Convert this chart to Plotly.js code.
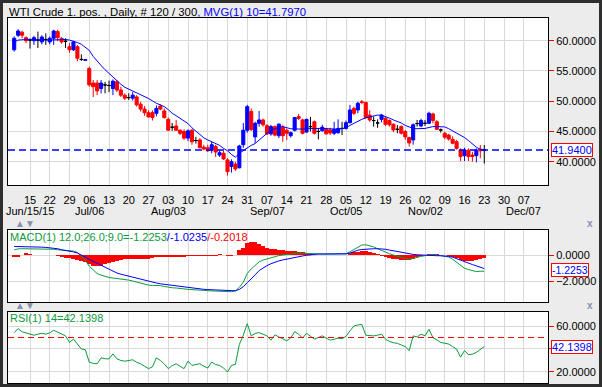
<!DOCTYPE html>
<html><head><meta charset="utf-8">
<script src="https://cdn.plot.ly/plotly-3.0.1.min.js"></script>
<style>html,body{margin:0;padding:0;background:#ececec;}#chart{width:602px;height:387px;}</style>
</head><body><div id="chart"></div>
<script>
const dates = [
"2015-06-09","2015-06-10","2015-06-11","2015-06-12","2015-06-15","2015-06-16","2015-06-17","2015-06-18","2015-06-19","2015-06-22","2015-06-23","2015-06-24","2015-06-25","2015-06-26","2015-06-29","2015-06-30",
"2015-07-01","2015-07-02","2015-07-03","2015-07-06","2015-07-07","2015-07-08","2015-07-09","2015-07-10","2015-07-13","2015-07-14","2015-07-15","2015-07-16","2015-07-17","2015-07-20","2015-07-21","2015-07-22","2015-07-23","2015-07-24","2015-07-27","2015-07-28","2015-07-29","2015-07-30","2015-07-31",
"2015-08-03","2015-08-04","2015-08-05","2015-08-06","2015-08-07","2015-08-10","2015-08-11","2015-08-12","2015-08-13","2015-08-14","2015-08-17","2015-08-18","2015-08-19","2015-08-20","2015-08-21","2015-08-24","2015-08-25","2015-08-26","2015-08-27","2015-08-28","2015-08-31",
"2015-09-01","2015-09-02","2015-09-03","2015-09-04","2015-09-07","2015-09-08","2015-09-09","2015-09-10","2015-09-11","2015-09-14","2015-09-15","2015-09-16","2015-09-17","2015-09-18","2015-09-21","2015-09-22","2015-09-23","2015-09-24","2015-09-25","2015-09-28","2015-09-29","2015-09-30",
"2015-10-01","2015-10-02","2015-10-05","2015-10-06","2015-10-07","2015-10-08","2015-10-09","2015-10-12","2015-10-13","2015-10-14","2015-10-15","2015-10-16","2015-10-19","2015-10-20","2015-10-21","2015-10-22","2015-10-23","2015-10-26","2015-10-27","2015-10-28","2015-10-29","2015-10-30",
"2015-11-02","2015-11-03","2015-11-04","2015-11-05","2015-11-06","2015-11-09","2015-11-10","2015-11-11","2015-11-12","2015-11-13","2015-11-16","2015-11-17","2015-11-18","2015-11-19","2015-11-20","2015-11-23"];

const open = [58.5,60.9,61.4,60.5,
60.1,60.0,60.1,59.8,60.2,59.8,60.4,61.5,60.4,59.9,
59.0,58.5,59.0,56.9,56.75,55.4,53.0,53.0,52.1,52.7,
52.6,52.1,53.2,51.85,51.0,50.6,50.5,50.7,49.5,48.7,
48.1,48.1,48.0,49.2,48.4,47.0,45.7,45.9,45.2,45.0,
43.9,45.2,43.5,43.6,42.4,42.3,41.9,42.5,41.1,41.4,
40.3,39.2,39.6,39.0,42.8,45.2,48.3,44.1,46.35,46.9,
45.95,44.6,45.8,44.3,45.7,45.2,44.3,45.2,47.45,46.9,
44.9,45.8,46.6,45.0,45.1,45.35,45.25,44.7,44.8,45.5,
45.5,46.45,48.8,48.55,49.9,49.8,47.7,46.8,46.4,47.0,
47.2,46.8,46.2,45.35,45.8,45.0,44.0,43.6,46.3,45.9,
46.35,46.35,47.9,46.6,45.25,44.7,44.4,43.7,43.3,41.9,
41.0,41.9,41.1,41.0,42.1,41.94];
const high = [60.7,61.9,61.65,60.7,
60.4,60.8,61.5,60.9,61.2,60.7,61.8,61.8,60.6,60.4,
59.6,60.0,59.3,57.75,56.9,55.7,53.5,53.5,53.5,53.2,
53.4,53.6,53.5,52.4,51.3,51.3,51.5,51.0,49.9,49.2,
48.5,48.5,49.3,49.5,48.8,47.3,46.4,46.9,45.35,45.35,
45.35,45.4,44.1,43.9,42.8,42.8,43.3,42.8,41.9,41.8,
40.6,40.4,40.0,42.8,46.4,49.4,48.8,46.6,48.4,47.1,
46.2,46.1,46.0,46.35,46.1,45.5,45.0,47.4,47.9,47.1,
47.1,47.4,46.8,45.5,46.1,45.6,45.6,46.6,47.0,46.6,
46.8,49.4,49.1,49.9,50.2,49.9,48.5,47.45,47.0,47.9,
47.4,47.0,46.3,46.07,46.0,45.24,44.13,46.35,46.9,47.1,
46.9,48.27,48.1,46.9,45.5,44.96,44.6,44.2,43.6,42.2,
42.3,42.2,41.65,42.2,42.76,42.76];
const low = [58.2,60.6,60.4,59.6,
58.7,59.3,58.8,59.4,59.3,59.4,59.3,59.9,59.5,58.8,
58.0,58.3,56.6,56.65,56.7,52.4,50.7,51.0,51.3,51.3,
51.5,51.0,51.5,50.7,50.2,50.2,50.1,49.1,48.3,47.6,
47.3,46.8,47.5,48.5,47.1,45.1,45.1,45.1,44.4,43.6,
43.4,42.8,43.0,42.2,41.9,41.6,41.4,40.8,40.8,40.3,
37.7,38.2,38.5,38.9,42.3,44.8,45.1,43.1,45.8,45.8,
44.4,44.3,44.2,43.9,43.3,43.6,44.0,45.0,46.9,44.5,
44.8,45.0,44.5,43.7,45.0,44.5,44.4,44.4,44.6,44.4,
45.3,46.3,47.7,48.0,49.5,47.1,46.6,45.8,45.6,46.5,
45.9,45.8,44.9,44.7,44.5,43.6,42.5,42.8,45.8,45.7,
45.9,46.2,46.35,45.24,44.8,43.7,43.5,42.9,42.0,40.1,
40.1,40.1,40.0,39.9,40.56,39.7];
const close = [60.4,61.6,60.9,60.0,
60.1,60.5,60.1,60.6,60.2,60.4,61.6,60.5,59.8,59.9,
58.5,59.8,57.1,56.9,56.85,52.7,52.4,51.7,53.0,52.7,
52.6,53.3,51.85,51.0,50.5,50.6,51.0,49.4,48.7,48.1,
47.4,47.3,48.8,48.7,47.3,45.2,45.7,45.2,44.7,43.9,
45.1,43.3,43.5,42.3,42.1,41.8,42.8,41.6,41.5,40.45,
38.35,40.0,38.8,42.6,45.2,49.1,45.3,46.35,46.9,46.1,
44.6,45.8,44.4,46.2,44.3,44.7,44.8,47.3,47.15,44.7,
47.0,45.8,44.7,45.0,45.7,44.6,44.75,45.35,45.5,45.5,
46.45,48.55,48.0,49.65,49.8,47.3,46.9,46.8,46.4,47.7,
46.2,46.1,45.25,45.35,44.7,44.1,43.1,46.1,46.3,46.8,
46.35,48.0,46.8,45.35,45.25,44.05,43.75,43.05,42.2,40.85,
41.9,40.85,40.85,41.9,41.8,41.94];
const mvg10 = [59.8,60.1,60.15,60.2,
60.2,60.15,60.1,60.1,60.1,60.1,60.15,60.2,60.2,60.2,
60.1,59.95,59.7,59.4,58.9,58.4,57.4,56.6,55.9,55.2,
54.6,53.9,53.3,52.8,52.3,52.0,51.7,51.4,51.1,50.8,
50.45,50.05,49.65,49.4,49.1,48.6,48.0,47.6,47.2,46.7,
46.3,45.6,45.0,44.4,43.95,43.6,43.3,43.1,42.7,42.2,
41.8,41.2,40.75,41.4,41.85,42.3,42.7,43.0,43.6,44.1,
44.7,45.2,45.5,45.7,45.8,45.6,45.45,45.4,45.35,45.4,
45.45,45.5,45.5,45.5,45.5,45.5,45.45,45.4,45.35,45.45,
45.6,46.0,46.35,46.65,47.0,47.25,47.4,47.55,47.7,47.7,
47.5,47.2,46.9,46.65,46.4,46.0,45.7,45.5,45.45,45.45,
45.5,45.65,45.8,45.8,45.8,45.75,45.45,45.1,44.75,44.4,
44.0,43.5,42.9,42.4,42.05,41.797];
const macdLine = [0.39,0.47,0.48,0.48,
0.47,0.46,0.45,0.44,0.43,0.43,0.44,0.40,0.38,0.36,
0.33,0.30,0.20,-0.10,-0.40,-0.85,-1.15,-1.40,-1.52,-1.62,
-1.70,-1.74,-1.77,-1.80,-1.85,-1.90,-1.97,-2.05,-2.15,-2.24,
-2.28,-2.30,-2.30,-2.32,-2.38,-2.45,-2.48,-2.50,-2.55,-2.60,
-2.60,-2.62,-2.65,-2.68,-2.70,-2.72,-2.72,-2.73,-2.74,-2.76,
-2.80,-2.78,-2.72,-2.45,-2.05,-1.40,-1.05,-0.78,-0.52,-0.38,
-0.28,-0.18,-0.10,-0.04,0.00,0.04,0.08,0.14,0.16,0.14,
0.12,0.10,0.08,0.08,0.08,0.08,0.08,0.07,0.07,0.08,
0.10,0.25,0.40,0.58,0.76,0.78,0.72,0.62,0.48,0.34,
0.22,0.10,0.00,-0.06,-0.16,-0.24,-0.31,-0.26,-0.16,-0.10,
-0.05,0.02,0.04,0.00,-0.04,-0.08,-0.15,-0.32,-0.55,-0.80,
-1.00,-1.10,-1.20,-1.25,-1.23,-1.2253];
const signalLine = [0.65,0.65,0.65,0.64,
0.63,0.62,0.61,0.60,0.58,0.55,0.52,0.48,0.40,0.36,
0.31,0.24,0.15,0.02,-0.15,-0.33,-0.48,-0.62,-0.78,-0.95,
-1.12,-1.25,-1.36,-1.45,-1.53,-1.60,-1.67,-1.74,-1.81,-1.88,
-1.95,-2.05,-2.12,-2.18,-2.22,-2.27,-2.32,-2.37,-2.40,-2.44,
-2.48,-2.51,-2.54,-2.57,-2.60,-2.62,-2.64,-2.66,-2.67,-2.69,
-2.70,-2.71,-2.71,-2.60,-2.40,-2.10,-1.82,-1.50,-1.18,-0.98,
-0.80,-0.66,-0.53,-0.44,-0.37,-0.30,-0.24,-0.17,-0.12,-0.07,
-0.02,0.03,0.06,0.08,0.08,0.08,0.08,0.08,0.08,0.08,
0.09,0.15,0.28,0.37,0.42,0.45,0.47,0.48,0.48,0.47,
0.44,0.38,0.32,0.26,0.21,0.15,0.09,0.05,0.02,0.00,
-0.03,-0.04,-0.05,-0.05,-0.05,-0.06,-0.10,-0.16,-0.28,-0.40,
-0.52,-0.62,-0.72,-0.82,-0.93,-1.0235];
const macdHist = [-0.12,-0.12,0.02,0.15,
0.05,0.02,0.0,-0.02,-0.02,-0.03,0.0,-0.06,-0.15,-0.2,
-0.25,-0.3,-0.35,-0.45,-0.55,-0.7,-0.83,-0.85,-0.8,-0.65,
-0.58,-0.5,-0.42,-0.35,-0.3,-0.28,-0.3,-0.3,-0.32,-0.3,
-0.27,-0.2,-0.15,-0.12,-0.14,-0.15,-0.14,-0.12,-0.12,-0.12,
-0.1,-0.09,-0.09,-0.08,-0.08,-0.07,-0.05,-0.05,0.1,-0.03,
-0.08,-0.05,0.02,0.35,0.5,0.95,1.0,0.98,0.85,0.7,
0.55,0.48,0.43,0.38,0.35,0.32,0.3,0.28,0.25,0.2,
0.15,0.08,0.03,0.0,0.0,0.0,0.0,-0.02,-0.02,0.0,
0.02,0.12,0.2,0.25,0.32,0.32,0.25,0.14,0.05,-0.05,
-0.15,-0.25,-0.3,-0.3,-0.35,-0.38,-0.38,-0.3,-0.18,-0.1,
-0.03,0.05,0.1,0.06,0.0,-0.03,-0.06,-0.14,-0.25,-0.35,
-0.45,-0.45,-0.43,-0.38,-0.3,-0.2018];
const rsi14 = [54.3,57.7,55.0,54.0,
52.5,52.0,52.9,53.7,52.9,54.0,56.3,54.5,52.9,51.4,
45.7,48.6,44.3,40.0,39.4,28.6,27.5,27.1,32.3,31.5,
31.4,35.7,31.5,30.0,29.4,29.8,30.6,28.5,27.1,25.0,
22.9,24.5,32.3,30.0,27.0,22.9,25.5,27.1,25.0,22.9,
29.4,25.7,26.5,27.1,25.0,23.4,28.6,26.5,25.7,23.5,
20.0,25.7,26.6,44.0,52.0,62.0,51.4,53.5,54.3,53.0,
51.4,47.7,52.3,50.5,48.6,47.1,49.5,55.1,52.9,49.4,
53.7,51.0,48.6,50.0,51.4,49.5,47.7,48.5,49.4,49.0,
51.0,55.7,60.0,60.9,61.4,52.0,51.7,51.4,52.0,52.9,
48.5,46.6,45.5,44.9,43.5,42.0,38.6,51.4,50.5,52.9,
51.4,57.1,50.0,47.5,45.7,45.0,44.3,42.0,40.0,32.9,
38.6,35.1,35.5,37.1,40.0,42.14];

const dayTickLabels = ["15","22","29","06","13","20","27","03","10","17","24","31","07","14","21","28","05","12","19","26","02","09","16","23","30","07"];
const monthLabels = ["Jun/15/15","Jul/06","Aug/03","Sep/07","Oct/05","Nov/02","Dec/07"];
const monthLabelWeek = [0,3,7,12,16,20,25];
const priceTicks = [40,45,50,55,60];
const macdTicks = [0,-2];
const rsiTicks = [20,40,60];
const rsiTickText = ["20.0000","","60.0000"];
const titleText = "WTI Crude 1. pos. , Daily, # 120 / 300";
const mvgText = ", MVG(1) 10=41.7970";
const lastPrice = 41.94, lastPriceText = "41.9400";
const macdVal = "-1.2253", signalVal = "-1.0235", histVal = "-0.2018";
const rsiVal = 42.1398, rsiValText = "42.1398";
const rsiRefLevel = 50;

const W = 602, H = 387;
const px = v => v / W, py = v => 1 - v / H;
const FONT = "Liberation Sans, Arial, sans-serif";
const BLUE = "#0000ff", RED = "#ff0000", GREEN = "#0b9a3c", GRID = "#d9d9d9";
const firstMondayIdx = dates.indexOf("2015-06-15");
const weekTicks = dayTickLabels.map((_, k) => firstMondayIdx + 5 * k);
const idx = dates.map((_, i) => i);
const xRange = [firstMondayIdx - 22 / 3.95, firstMondayIdx + 518 / 3.95];

function subset(pred) {
  const o = {x: [], open: [], high: [], low: [], close: []};
  idx.forEach(i => { if (pred(open[i], close[i])) {
    o.x.push(i); o.open.push(open[i]); o.high.push(high[i]); o.low.push(low[i]); o.close.push(close[i]); } });
  return o;
}
function candle(s, col) {
  return {type: "candlestick", x: s.x, open: s.open, high: s.high, low: s.low, close: s.close,
    xaxis: "x", yaxis: "y", whiskerwidth: 0, hoverinfo: "skip",
    increasing: {line: {color: col, width: 1}, fillcolor: col},
    decreasing: {line: {color: col, width: 1}, fillcolor: col}};
}
const up = subset((o, c) => c - o > 0.06);
const dn = subset((o, c) => o - c > 0.06);
const flat = subset((o, c) => Math.abs(c - o) <= 0.06);

const traces = [
  candle(up, BLUE), candle(dn, RED), candle(flat, "#000000"),
  {type: "scatter", mode: "lines", x: idx, y: mvg10, xaxis: "x", yaxis: "y", line: {color: BLUE, width: 1}, hoverinfo: "skip"},
  {type: "bar", x: idx, y: macdHist, width: 1, xaxis: "x2", yaxis: "y2", marker: {color: RED, line: {width: 0}}, hoverinfo: "skip"},
  {type: "scatter", mode: "lines", x: idx, y: macdLine, xaxis: "x2", yaxis: "y2", line: {color: GREEN, width: 1}, hoverinfo: "skip"},
  {type: "scatter", mode: "lines", x: idx, y: signalLine, xaxis: "x2", yaxis: "y2", line: {color: BLUE, width: 1}, hoverinfo: "skip"},
  {type: "scatter", mode: "lines", x: idx, y: rsi14, xaxis: "x3", yaxis: "y3", line: {color: GREEN, width: 1}, hoverinfo: "skip"}
];

const xDom = [px(8), px(548)];
const xBase = {domain: xDom, range: xRange, tickvals: weekTicks, showgrid: true, gridcolor: GRID, gridwidth: 1,
  showline: true, mirror: true, linecolor: "#000", linewidth: 1, zeroline: false, ticks: "",
  rangeslider: {visible: false}, fixedrange: true};
const yBase = {side: "right", ticks: "outside", ticklen: 5, tickcolor: RED, tickwidth: 1, tickformat: ".4f",
  showgrid: true, gridcolor: GRID, gridwidth: 1, showline: true, mirror: true, linecolor: "#000", linewidth: 1,
  zeroline: false, fixedrange: true, tickfont: {size: 11, color: "#000"}};

const layout = {
  width: W, height: H, margin: {l: 0, r: 0, t: 0, b: 0},
  paper_bgcolor: "#ececec", plot_bgcolor: "#ffffff",
  font: {family: FONT, size: 11, color: "#000"},
  showlegend: false, hovermode: false, dragmode: false,
  boxgap: 0.22, boxgroupgap: 0, bargap: 0,
  xaxis: Object.assign({}, xBase, {anchor: "y", ticktext: dayTickLabels, showticklabels: true, tickfont: {size: 11, color: "#000"}, ticklabelstandoff: 5}),
  xaxis2: Object.assign({}, xBase, {anchor: "y2", matches: "x", showticklabels: false}),
  xaxis3: Object.assign({}, xBase, {anchor: "y3", matches: "x", showticklabels: false}),
  yaxis: Object.assign({}, yBase, {anchor: "x", domain: [py(185), py(18)], range: [36.15, 63.75], tickvals: priceTicks}),
  yaxis2: Object.assign({}, yBase, {anchor: "x2", domain: [py(302), py(230)], range: [-3.56, 1.9], tickvals: macdTicks}),
  yaxis3: Object.assign({}, yBase, {anchor: "x3", domain: [py(383), py(312)], range: [10.4, 72.2], tickvals: rsiTicks, ticktext: rsiTickText}),
  shapes: [
    {type: "line", xref: "x domain", x0: 0, x1: 1, yref: "y", y0: lastPrice, y1: lastPrice, line: {color: BLUE, width: 1.5, dash: "7px,4px"}},
    {type: "line", xref: "x3 domain", x0: 0, x1: 1, yref: "y3", y0: rsiRefLevel, y1: rsiRefLevel, line: {color: RED, width: 1.2, dash: "6px,4px"}},
    {type: "rect", xref: "paper", yref: "paper", x0: 0, x1: 1, y0: 0, y1: 1, line: {color: "#2e2e2e", width: 6}}
  ],
  annotations: []
};
const A = layout.annotations;
A.push({xref: "paper", yref: "paper", x: px(7), y: py(12), xanchor: "left", yanchor: "middle", showarrow: false,
  text: titleText + "<span style='color:" + BLUE + "'>" + mvgText + "</span>", font: {size: 11.3, color: "#000"}});
monthLabels.forEach((t, k) => A.push({xref: "x", yref: "paper", x: weekTicks[monthLabelWeek[k]], y: py(211), xanchor: "center", yanchor: "middle",
  showarrow: false, text: t, font: {size: 11, color: "#000"}}));
function valueBox(yref, yv, txt, fs) {
  A.push({xref: "paper", yref: yref, x: px(551), y: yv, xanchor: "left", yanchor: "middle", showarrow: false, text: txt,
    font: {size: fs, color: BLUE}, bgcolor: "#ffffff", bordercolor: RED, borderwidth: 1, borderpad: 0});
}
valueBox("y", lastPrice, lastPriceText, 11);
valueBox("y2", parseFloat(macdVal) + 0.08, macdVal, 10.5);
valueBox("y3", rsiVal, rsiValText, 11);
A.push({xref: "paper", yref: "paper", x: px(8), y: py(237), xanchor: "left", yanchor: "middle", showarrow: false,
  text: "<span style='color:" + GREEN + "'>MACD(1) 12.0;26.0;9.0=" + macdVal + "</span><span style='color:" + BLUE + "'>/" + signalVal + "</span><span style='color:" + RED + "'>/" + histVal + "</span>",
  font: {size: 11}});
A.push({xref: "paper", yref: "paper", x: px(8), y: py(318), xanchor: "left", yanchor: "middle", showarrow: false,
  text: "RSI(1) 14=" + rsiValText, font: {size: 11, color: GREEN}});
[[224, 8], [305, 8]].forEach(([yy]) => {
  A.push({xref: "paper", yref: "paper", x: px(13), y: py(yy), xanchor: "left", yanchor: "middle", showarrow: false,
    text: "▲▼", font: {size: 10, color: "#8891ad"}});
  A.push({xref: "paper", yref: "paper", x: px(590), y: py(yy), xanchor: "center", yanchor: "middle", showarrow: false,
    text: "<b>x</b>", font: {size: 10, color: "#8891ad"}});
});

Plotly.newPlot("chart", traces, layout, {staticPlot: true, displayModeBar: false});
</script></body></html>
